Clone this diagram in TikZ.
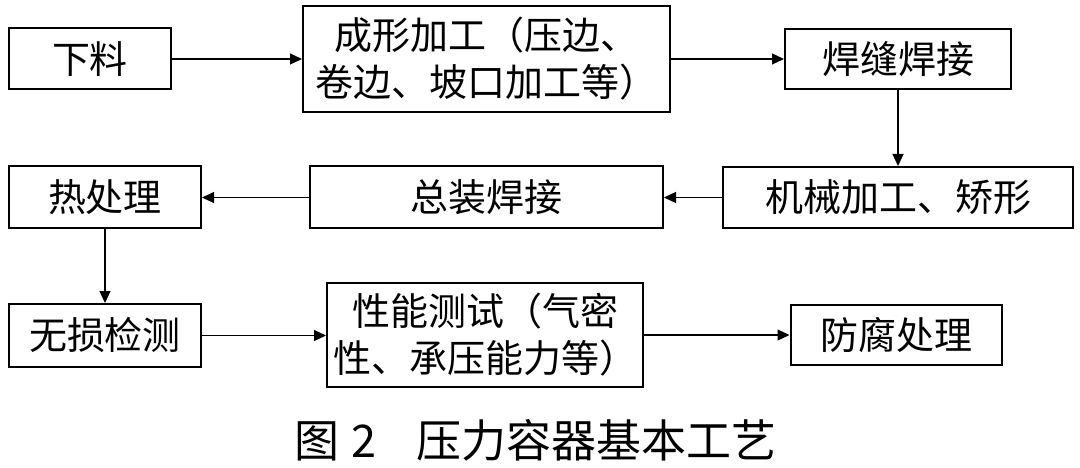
\documentclass[tikz,border=0pt]{standalone}
\usepackage{fontspec}
\setmainfont{Noto Sans CJK SC}
\newfontfamily\cjk{Noto Sans CJK SC}
\usetikzlibrary{arrows.meta}
\tikzset{
  box/.style={draw, line width=2pt, inner sep=0pt, align=center,
    font=\cjk\fontsize{38}{47}\selectfont},
  arr/.style={-{Triangle[length=12pt,width=11pt]}, line width=1.2pt},
}
\begin{document}
\begin{tikzpicture}[x=1pt,y=-1pt]
\useasboundingbox[fill=white] (0,0) rectangle (1080,468);
\node[box, minimum width=162pt, minimum height=61pt] (n1) at (90,59) {下料};
\node[box, minimum width=367pt, minimum height=106pt] (n2) at (486.5,59) {成形加工（压边、\\卷边、坡口加工等）};
\node[box, minimum width=226pt, minimum height=60pt] (n3) at (898,59) {焊缝焊接};
\node[box, minimum width=350pt, minimum height=61pt] (n4) at (898,197.5) {机械加工、矫形};
\node[box, minimum width=353pt, minimum height=62pt] (n5) at (486.5,197.5) {总装焊接};
\node[box, minimum width=192pt, minimum height=62pt] (n6) at (105,197.5) {热处理};
\node[box, minimum width=192pt, minimum height=63pt] (n7) at (105,335.5) {无损检测};
\node[box, minimum width=316pt, minimum height=104pt] (n8) at (485,335) {性能测试（气密\\性、承压能力等）};
\node[box, minimum width=211pt, minimum height=60pt] (n9) at (896,335) {防腐处理};
\node[anchor=west, inner sep=0pt, font=\cjk\fontsize{45}{50}\selectfont] (cap) at (294,440) {图\hspace{12pt}2\hspace{40pt}压力容器基本工艺};
\draw[arr] (n1.east) -- (n1.east -| n2.west);
\draw[arr] (n2.east |- n1.east) -- (n1.east -| n3.west);
\draw[arr] (n3.south) -- (n3.south |- n4.north);
\draw[arr] (n4.west) -- (n4.west -| n5.east);
\draw[arr] (n5.west) -- (n5.west -| n6.east);
\draw[arr] (n6.south) -- (n6.south |- n7.north);
\draw[arr] (n7.east) -- (n7.east -| n8.west);
\draw[arr] (n8.east) -- (n8.east -| n9.west);
\end{tikzpicture}
\end{document}
